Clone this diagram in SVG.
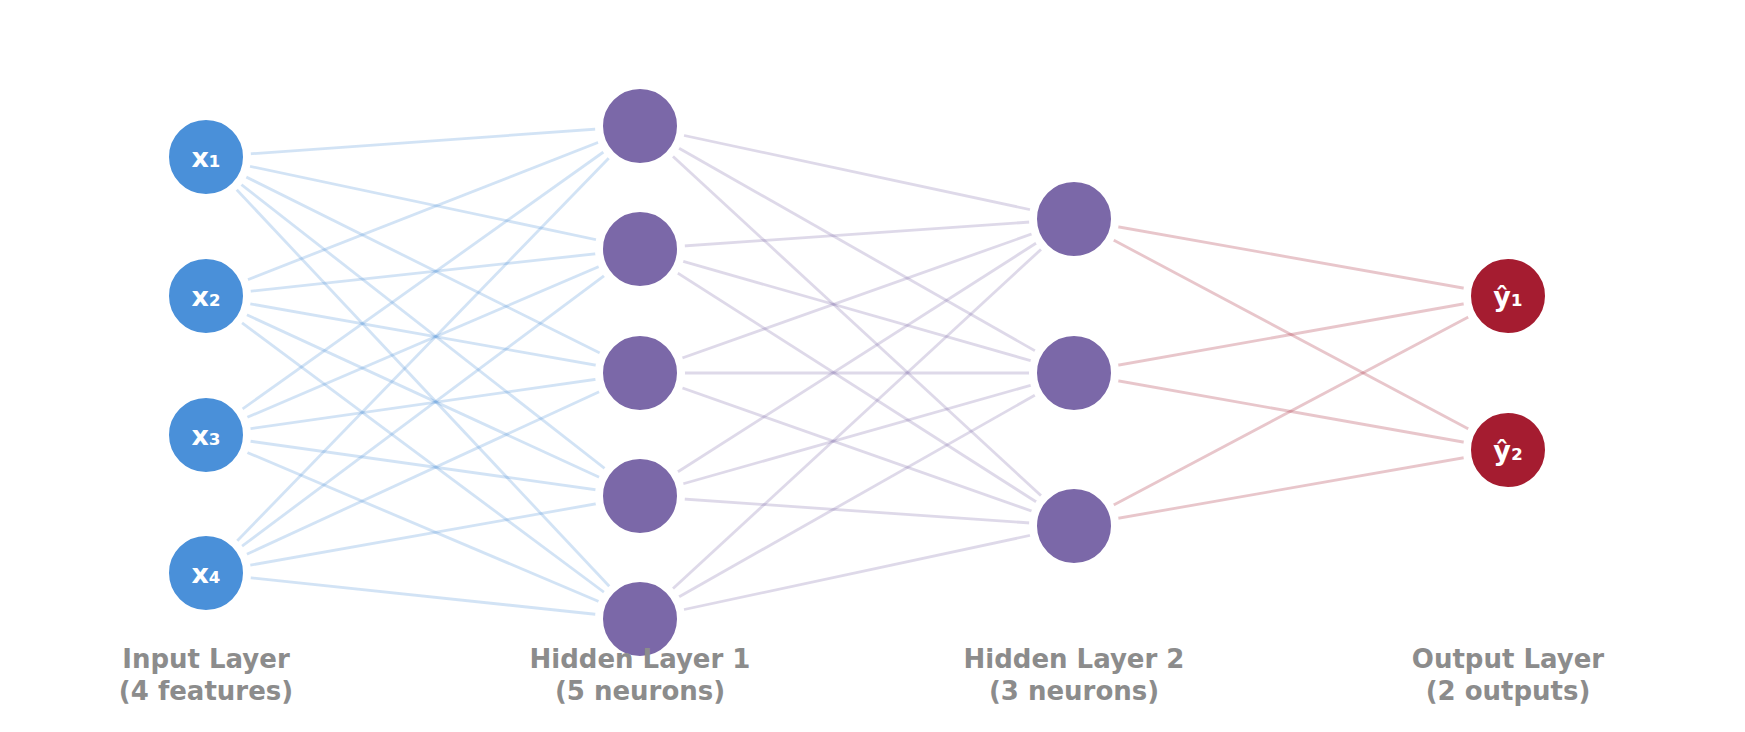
<svg xmlns="http://www.w3.org/2000/svg" width="1745" height="732" viewBox="0 0 1745 732">
<style>
.b{stroke:#4a90d9;stroke-opacity:0.25;stroke-width:2.8}
.p{stroke:#7b68a8;stroke-opacity:0.25;stroke-width:2.8}
.r{stroke:#a51c30;stroke-opacity:0.25;stroke-width:2.8}
circle{stroke:#fff;stroke-width:8}
.in{fill:#4a90d9}.hd{fill:#7b68a8}.ou{fill:#a51c30}
.t{font-family:"DejaVu Sans",sans-serif;font-weight:bold;font-size:27px;fill:#fff;text-anchor:middle}
.l{font-family:"DejaVu Sans",sans-serif;font-weight:bold;font-size:26px;fill:#8c8c8c;text-anchor:middle}
</style>
<rect width="1745" height="732" fill="#fff"/>
<g id="connectors">
<g class="b">
<line x1="206" y1="157" x2="640" y2="126"/><line x1="206" y1="157" x2="640" y2="249"/><line x1="206" y1="157" x2="640" y2="373"/><line x1="206" y1="157" x2="640" y2="496"/><line x1="206" y1="157" x2="640" y2="619"/>
<line x1="206" y1="296" x2="640" y2="126"/><line x1="206" y1="296" x2="640" y2="249"/><line x1="206" y1="296" x2="640" y2="373"/><line x1="206" y1="296" x2="640" y2="496"/><line x1="206" y1="296" x2="640" y2="619"/>
<line x1="206" y1="435" x2="640" y2="126"/><line x1="206" y1="435" x2="640" y2="249"/><line x1="206" y1="435" x2="640" y2="373"/><line x1="206" y1="435" x2="640" y2="496"/><line x1="206" y1="435" x2="640" y2="619"/>
<line x1="206" y1="573" x2="640" y2="126"/><line x1="206" y1="573" x2="640" y2="249"/><line x1="206" y1="573" x2="640" y2="373"/><line x1="206" y1="573" x2="640" y2="496"/><line x1="206" y1="573" x2="640" y2="619"/>
</g>
<g class="p">
<line x1="640" y1="126" x2="1074" y2="219"/><line x1="640" y1="126" x2="1074" y2="373"/><line x1="640" y1="126" x2="1074" y2="526"/>
<line x1="640" y1="249" x2="1074" y2="219"/><line x1="640" y1="249" x2="1074" y2="373"/><line x1="640" y1="249" x2="1074" y2="526"/>
<line x1="640" y1="373" x2="1074" y2="219"/><line x1="640" y1="373" x2="1074" y2="373"/><line x1="640" y1="373" x2="1074" y2="526"/>
<line x1="640" y1="496" x2="1074" y2="219"/><line x1="640" y1="496" x2="1074" y2="373"/><line x1="640" y1="496" x2="1074" y2="526"/>
<line x1="640" y1="619" x2="1074" y2="219"/><line x1="640" y1="619" x2="1074" y2="373"/><line x1="640" y1="619" x2="1074" y2="526"/>
</g>
<g class="r">
<line x1="1074" y1="219" x2="1508" y2="296"/><line x1="1074" y1="219" x2="1508" y2="450"/>
<line x1="1074" y1="373" x2="1508" y2="296"/><line x1="1074" y1="373" x2="1508" y2="450"/>
<line x1="1074" y1="526" x2="1508" y2="296"/><line x1="1074" y1="526" x2="1508" y2="450"/>
</g>
</g>
<g id="x1"><circle class="in" cx="206" cy="157" r="41"/><text class="t" x="206" y="167">x₁</text></g>
<g id="x2"><circle class="in" cx="206" cy="296" r="41"/><text class="t" x="206" y="306">x₂</text></g>
<g id="x3"><circle class="in" cx="206" cy="435" r="41"/><text class="t" x="206" y="445">x₃</text></g>
<g id="x4"><circle class="in" cx="206" cy="573" r="41"/><text class="t" x="206" y="583">x₄</text></g>
<g id="h1_1"><circle class="hd" cx="640" cy="126" r="41"/></g>
<g id="h1_2"><circle class="hd" cx="640" cy="249" r="41"/></g>
<g id="h1_3"><circle class="hd" cx="640" cy="373" r="41"/></g>
<g id="h1_4"><circle class="hd" cx="640" cy="496" r="41"/></g>
<g id="h1_5"><circle class="hd" cx="640" cy="619" r="41"/></g>
<g id="h2_1"><circle class="hd" cx="1074" cy="219" r="41"/></g>
<g id="h2_2"><circle class="hd" cx="1074" cy="373" r="41"/></g>
<g id="h2_3"><circle class="hd" cx="1074" cy="526" r="41"/></g>
<g id="y1"><circle class="ou" cx="1508" cy="296" r="41"/><text class="t" x="1508" y="306">ŷ₁</text></g>
<g id="y2"><circle class="ou" cx="1508" cy="450" r="41"/><text class="t" x="1508" y="460">ŷ₂</text></g>
<g id="labels">
<text class="l" x="206" y="668">Input Layer</text><text class="l" x="206" y="700">(4 features)</text>
<text class="l" x="640" y="668">Hidden Layer 1</text><text class="l" x="640" y="700">(5 neurons)</text>
<text class="l" x="1074" y="668">Hidden Layer 2</text><text class="l" x="1074" y="700">(3 neurons)</text>
<text class="l" x="1508" y="668">Output Layer</text><text class="l" x="1508" y="700">(2 outputs)</text>
</g>
</svg>
